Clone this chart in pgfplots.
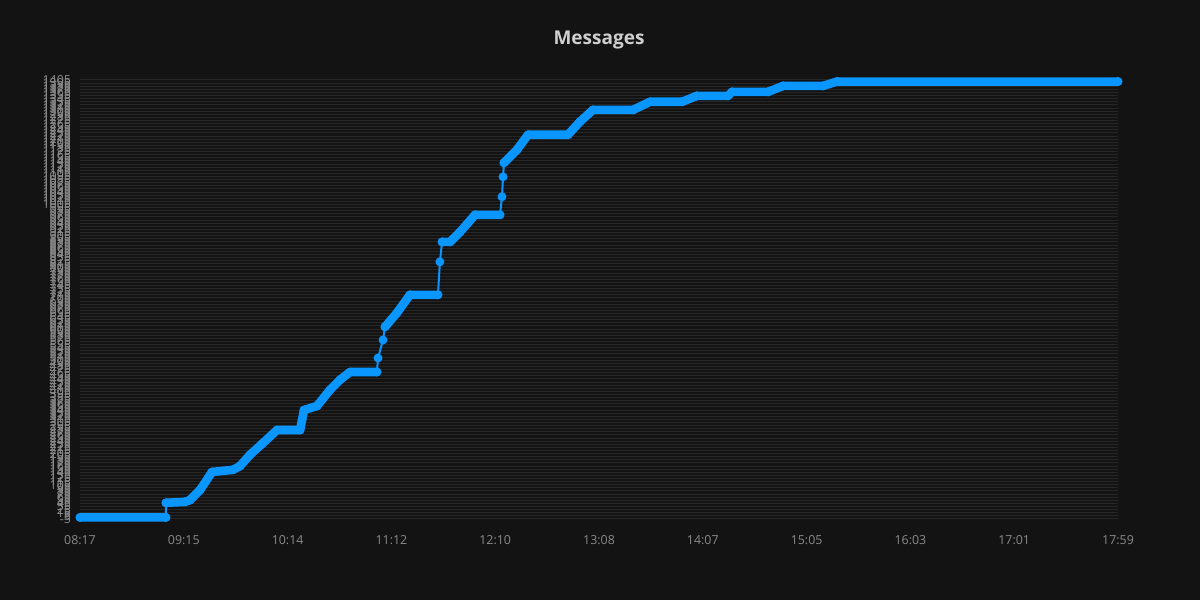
\documentclass[border=0pt]{standalone}
\usepackage{pgfplots}
\pgfplotsset{compat=1.18}
\usepackage{pgfplotstable}
\usepackage{fontspec}
\setmainfont{Open Sans}
\definecolor{bg}{HTML}{131313}
\definecolor{gridc}{HTML}{272727}
\definecolor{tickc}{HTML}{8A8A8A}
\definecolor{titlec}{HTML}{CFCFCF}
\definecolor{linec}{RGB}{10,150,255}

% full series: minutes since 08:17, messages
\pgfplotstableread{
m v
0 0
48.2 0
48.2 47
58.9 50
61.7 56
67.3 88
74.0 146
85.8 153
89.7 165
95.3 201
102.0 236
110.5 281
123.4 281
124.5 313
125.6 345
132.9 358
140.2 410
145.8 442
151.4 467
166.5 467
167.1 512
169.9 570
171.0 612
177.7 657
185.0 715
200.7 715
201.8 821
203.0 885
207.5 885
213.1 917
221.5 972
235.5 972
236.6 1030
237.2 1094
237.7 1139
245.0 1181
251.2 1229
273.6 1229
280.3 1271
287.6 1309
310.1 1309
319.6 1335
337.5 1335
345.9 1354
363.3 1354
365.6 1367
385.8 1367
394.2 1386
416.6 1386
424.5 1400
582 1400
}\full

% dense stretches (drawn thick), broken at the sparse jumps
\pgfplotstableread{
m v
0 0
48.2 0
nan nan
48.2 47
58.9 50
61.7 56
67.3 88
74.0 146
85.8 153
89.7 165
95.3 201
102.0 236
110.5 281
123.4 281
124.5 313
125.6 345
132.9 358
140.2 410
145.8 442
151.4 467
166.5 467
nan nan
171.0 612
177.7 657
185.0 715
200.7 715
nan nan
203.0 885
207.5 885
213.1 917
221.5 972
235.5 972
nan nan
237.7 1139
245.0 1181
251.2 1229
273.6 1229
280.3 1271
287.6 1309
310.1 1309
319.6 1335
337.5 1335
345.9 1354
363.3 1354
365.6 1367
385.8 1367
394.2 1386
416.6 1386
424.5 1400
582 1400
}\dense

\begin{document}
\begin{tikzpicture}
\fill[bg] (0,0) rectangle (600pt,300pt);
\begin{axis}[
  at={(40pt,40.5pt)}, anchor=south west,
  scale only axis, width=519pt, height=219.5pt,
  xmin=0, xmax=582, ymin=-5, ymax=1405,
  axis line style={draw=none},
  major tick length=0pt,
  xtick={0,58.2,116.4,174.6,232.8,291,349.2,407.4,465.6,523.8,582},
  xticklabels={08:17,09:15,10:14,11:12,12:10,13:08,14:07,15:05,16:03,17:01,17:59},
  ytick={-5,5,...,1405},
  ymajorgrids,
  grid style={draw=gridc, line width=0.5pt},
  tick label style={font=\fontsize{6.2}{7}\selectfont, text=tickc},
  /pgf/number format/assume math mode=true,
  /pgf/number format/fixed,
  /pgf/number format/precision=0,
  /pgf/number format/1000 sep={},
  yticklabel style={xshift=-1pt},
  xticklabel style={yshift=-4.5pt},
  title={Messages},
  title style={font=\bfseries\fontsize{9.5}{11}\selectfont, text=titlec, at={(0.5,1)}, anchor=center, yshift=14pt},
  unbounded coords=jump,
  clip=false,
]
\addplot[draw=linec, line width=4.3pt, line cap=round, line join=round] table[x=m,y=v] {\dense};
\addplot[draw=linec, line width=1pt, mark=*, mark size=1.7pt, mark options={fill=linec, draw=linec}] table[x=m,y=v] {\full};
\end{axis}
\end{tikzpicture}
\end{document}
